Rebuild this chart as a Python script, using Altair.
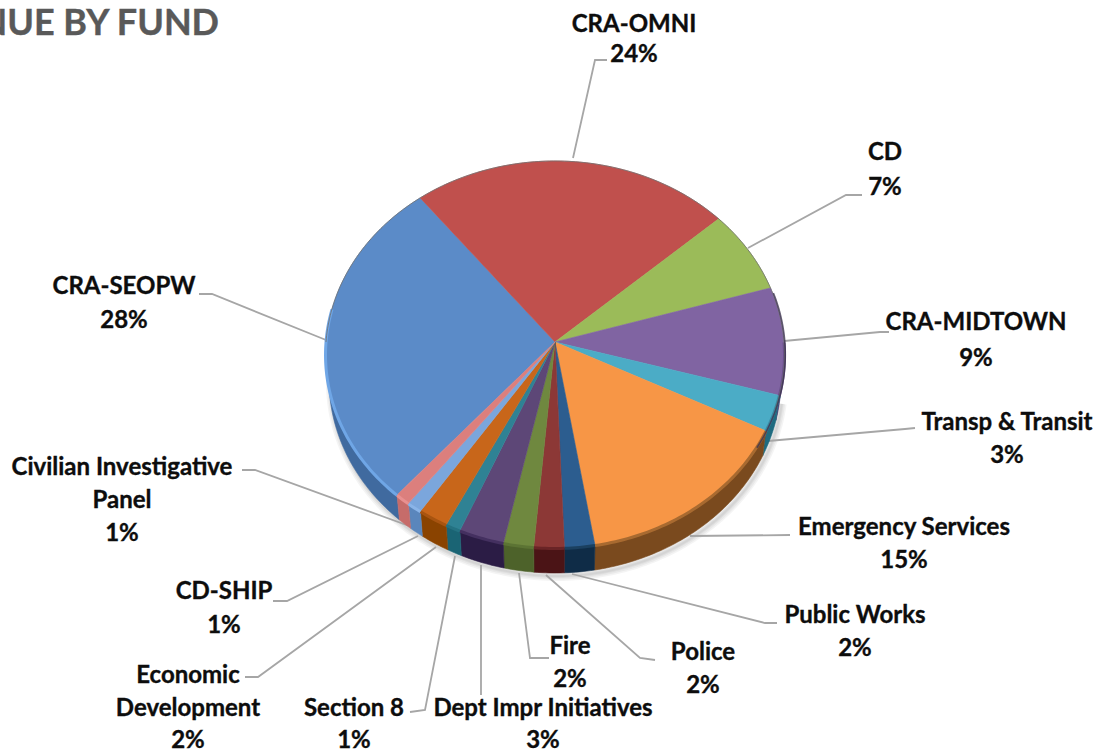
import numpy as np
import pandas as pd
import altair as alt

# Clockwise from the left edge of the largest slice
funds = ["CRA-SEOPW", "CRA-OMNI", "CD", "CRA-MIDTOWN", "Transp & Transit",
         "Emergency Services", "Public Works", "Police", "Fire",
         "Dept Impr Initiatives", "Section 8", "Economic Development",
         "CD-SHIP", "Civilian Investigative Panel"]
shares = [28, 24, 7, 9, 3, 15, 2, 2, 2, 3, 1, 2, 1, 1]

top_colours = ["#5b8bc8", "#c0504d", "#9bbb59", "#8064a2", "#4bacc6", "#f79646",
               "#2c5d8f", "#8c3836", "#6f883f", "#5d4777", "#2f8294", "#c8661a",
               "#7ba6dc", "#dc7f7d"]
side_colours = ["#406a9f", "#7d2a28", "#64803a", "#4a3270", "#1f6b80", "#7a4a1e",
                "#0f2c47", "#4b1416", "#4d622a", "#2b1c45", "#1a6474", "#8a4300",
                "#5a86bc", "#c66c6a"]
bevel_colours = ["#6fa6e6", "#a04644", "#86a24c", "#6a4f8c", "#3a8ca4", "#a86a30",
                 "#1b4060", "#6a2426", "#5c7434", "#443060", "#247282", "#a85410",
                 "#8ab4e8", "#e89090"]

# Label placement: line of text, centre x, centre y
label_lines = [
    ("CRA-OMNI", 634, 24), ("24%", 634, 54),
    ("CD", 885, 152), ("7%", 885, 187),
    ("CRA-MIDTOWN", 976, 322), ("9%", 976, 358),
    ("Transp & Transit", 1007, 422), ("3%", 1007, 455),
    ("Emergency Services", 904, 527), ("15%", 904, 560),
    ("Public Works", 855, 615), ("2%", 855, 648),
    ("Police", 703, 652), ("2%", 703, 685),
    ("Fire", 570, 646), ("2%", 570, 679),
    ("Dept Impr Initiatives", 543, 708), ("3%", 543, 740),
    ("Section 8", 354, 708), ("1%", 354, 740),
    ("Economic", 188, 675), ("Development", 188, 708), ("2%", 188, 740),
    ("CD-SHIP", 224, 591), ("1%", 224, 625),
    ("Civilian Investigative", 122, 467), ("Panel", 122, 500), ("1%", 122, 533),
    ("CRA-SEOPW", 124, 286), ("28%", 124, 320),
]

# Leader lines from the pie edge to each label
leaders = [
    [(573, 158), (595, 60), (607, 60)],
    [(748, 248), (846, 195), (862, 195)],
    [(784, 341), (880, 332), (889, 332)],
    [(768, 441), (905, 429), (915, 428)],
    [(690, 536), (790, 535)],
    [(572, 574), (765, 623), (777, 623)],
    [(546, 575), (640, 658), (655, 660)],
    [(519, 573), (530, 658), (549, 658)],
    [(481, 565), (481, 695)],
    [(455, 556), (425, 710), (410, 712)],
    [(436, 547), (258, 677), (245, 677)],
    [(418, 536), (287, 601), (273, 601)],
    [(412, 527), (255, 470), (242, 470)],
    [(326, 340), (212, 294), (199, 294)],
]

# Tilted disc: a perspective view of the unit circle around the hub
HUB_X, HUB_Y = 555, 342
HALF_W, HALF_H, TILT = 229, 192.7, 0.0646
DEPTH, BASE_SHRINK = 25, 0.985
START = -139


def rim(angle_from, angle_to, base=False):
    steps = max(2, int(abs(angle_to - angle_from)) + 2)
    t = np.radians(np.linspace(angle_from, angle_to, steps))
    u, v = np.sin(t), np.cos(t)
    d = 1 + TILT * v
    shrink = BASE_SHRINK if base else 1
    return (HUB_X + HALF_W * shrink * u / d,
            HUB_Y - HALF_H * v / d + (DEPTH if base else 0))


def path_rows(name, colour, xs, ys):
    return [{"id": name, "hex": colour, "i": i, "x": float(a), "y": float(b)}
            for i, (a, b) in enumerate(zip(xs, ys))]


edges = START + np.concatenate([[0], np.cumsum(shares)]) * 3.6
top_rows, side_rows, bevel_rows = [], [], []
for k, fund in enumerate(funds):
    a0, a1 = edges[k], edges[k + 1]
    xs, ys = rim(a0, a1)
    top_rows += path_rows(fund, top_colours[k], np.r_[HUB_X, xs], np.r_[HUB_Y, ys])
    # Only the front of the disc shows a side wall and a bevel
    f0, f1 = a0 % 360, a1 % 360 if a1 % 360 > a0 % 360 else a1 % 360 + 360
    lo, hi = max(f0, 90), min(f1, 290)
    if k == 0:
        lo, hi = 221, 280
    if hi > lo:
        tx, ty = rim(lo, hi)
        bx, by = rim(lo, hi, base=True)
        side_rows += path_rows(fund, side_colours[k], np.r_[tx, bx[::-1]], np.r_[ty, by[::-1]])
        bevel_rows += path_rows(fund, bevel_colours[k], tx, ty + 0.5)

sx, sy = rim(100, 285, base=True)
shadow_df = pd.DataFrame(path_rows("shadow", "#000000", sx + 2, sy + 3))
ex, ey = rim(-90, 110)
edge_df = pd.DataFrame(path_rows("edge", "#6f6f6f", ex, ey))
dx, dy = rim(75, 122)
dark_df = pd.DataFrame(path_rows("dark", "#3d3550", dx + 0.8, dy))

leader_df = pd.DataFrame([
    {"id": n, "i": i, "x": p[0], "y": p[1]}
    for n, pts in enumerate(leaders) for i, p in enumerate(pts)
])
label_df = pd.DataFrame(label_lines, columns=["text", "x", "y"])
title_df = pd.DataFrame([{"text": "REVENUE BY FUND", "x": 219, "y": 35}])

X = alt.X("x:Q", scale=alt.Scale(domain=[0, 1105]), axis=None)
Y = alt.Y("y:Q", scale=alt.Scale(domain=[754, 0]), axis=None)


def filled(df):
    return alt.Chart(df).mark_line(interpolate="linear-closed", strokeWidth=0.6).encode(
        x=X, y=Y, order="i:Q", detail="id:N",
        fill=alt.Fill("hex:N", scale=None),
        stroke=alt.Stroke("hex:N", scale=None),
    )


def stroked(df, colour, width, opacity=1.0):
    return alt.Chart(df).mark_line(color=colour, strokeWidth=width, opacity=opacity).encode(
        x=X, y=Y, order="i:Q", detail="id:N",
    )


shadow = [stroked(shadow_df, "#000000", w, 0.045) for w in (10, 7, 4, 2)]
sides = filled(pd.DataFrame(side_rows))
tops = filled(pd.DataFrame(top_rows))
bevel = alt.Chart(pd.DataFrame(bevel_rows)).mark_line(strokeWidth=3).encode(
    x=X, y=Y, order="i:Q", detail="id:N",
    stroke=alt.Stroke("hex:N", scale=None),
)
edge = stroked(edge_df, "#6f6f6f", 1.0, 0.8)
dark = stroked(dark_df, "#3d3550", 1.6, 0.8)
leader_marks = stroked(leader_df, "#a6a6a6", 1.8)

labels = alt.Chart(label_df).mark_text(
    font="Lato", fontWeight="bold", fontSize=24, color="#0d0d0d", align="center", baseline="middle",
    dy=1, stroke="#0d0d0d", strokeWidth=0.35,
).encode(x=X, y=Y, text="text:N")
title = alt.Chart(title_df).mark_text(
    font="Lato", fontWeight="bold", fontSize=36, color="#595959", align="right", baseline="alphabetic",
    stroke="#595959", strokeWidth=0.4,
).encode(x=X, y=Y, text="text:N")

chart = alt.layer(*shadow, leader_marks, sides, tops, bevel, edge, dark, labels, title).properties(
    width=1105, height=754, padding=0,
    autosize=alt.AutoSizeParams(type="none"),
    background="#ffffff",
).configure_view(stroke=None)

chart.save("out.html", embed_options={"renderer": "svg", "actions": False})
